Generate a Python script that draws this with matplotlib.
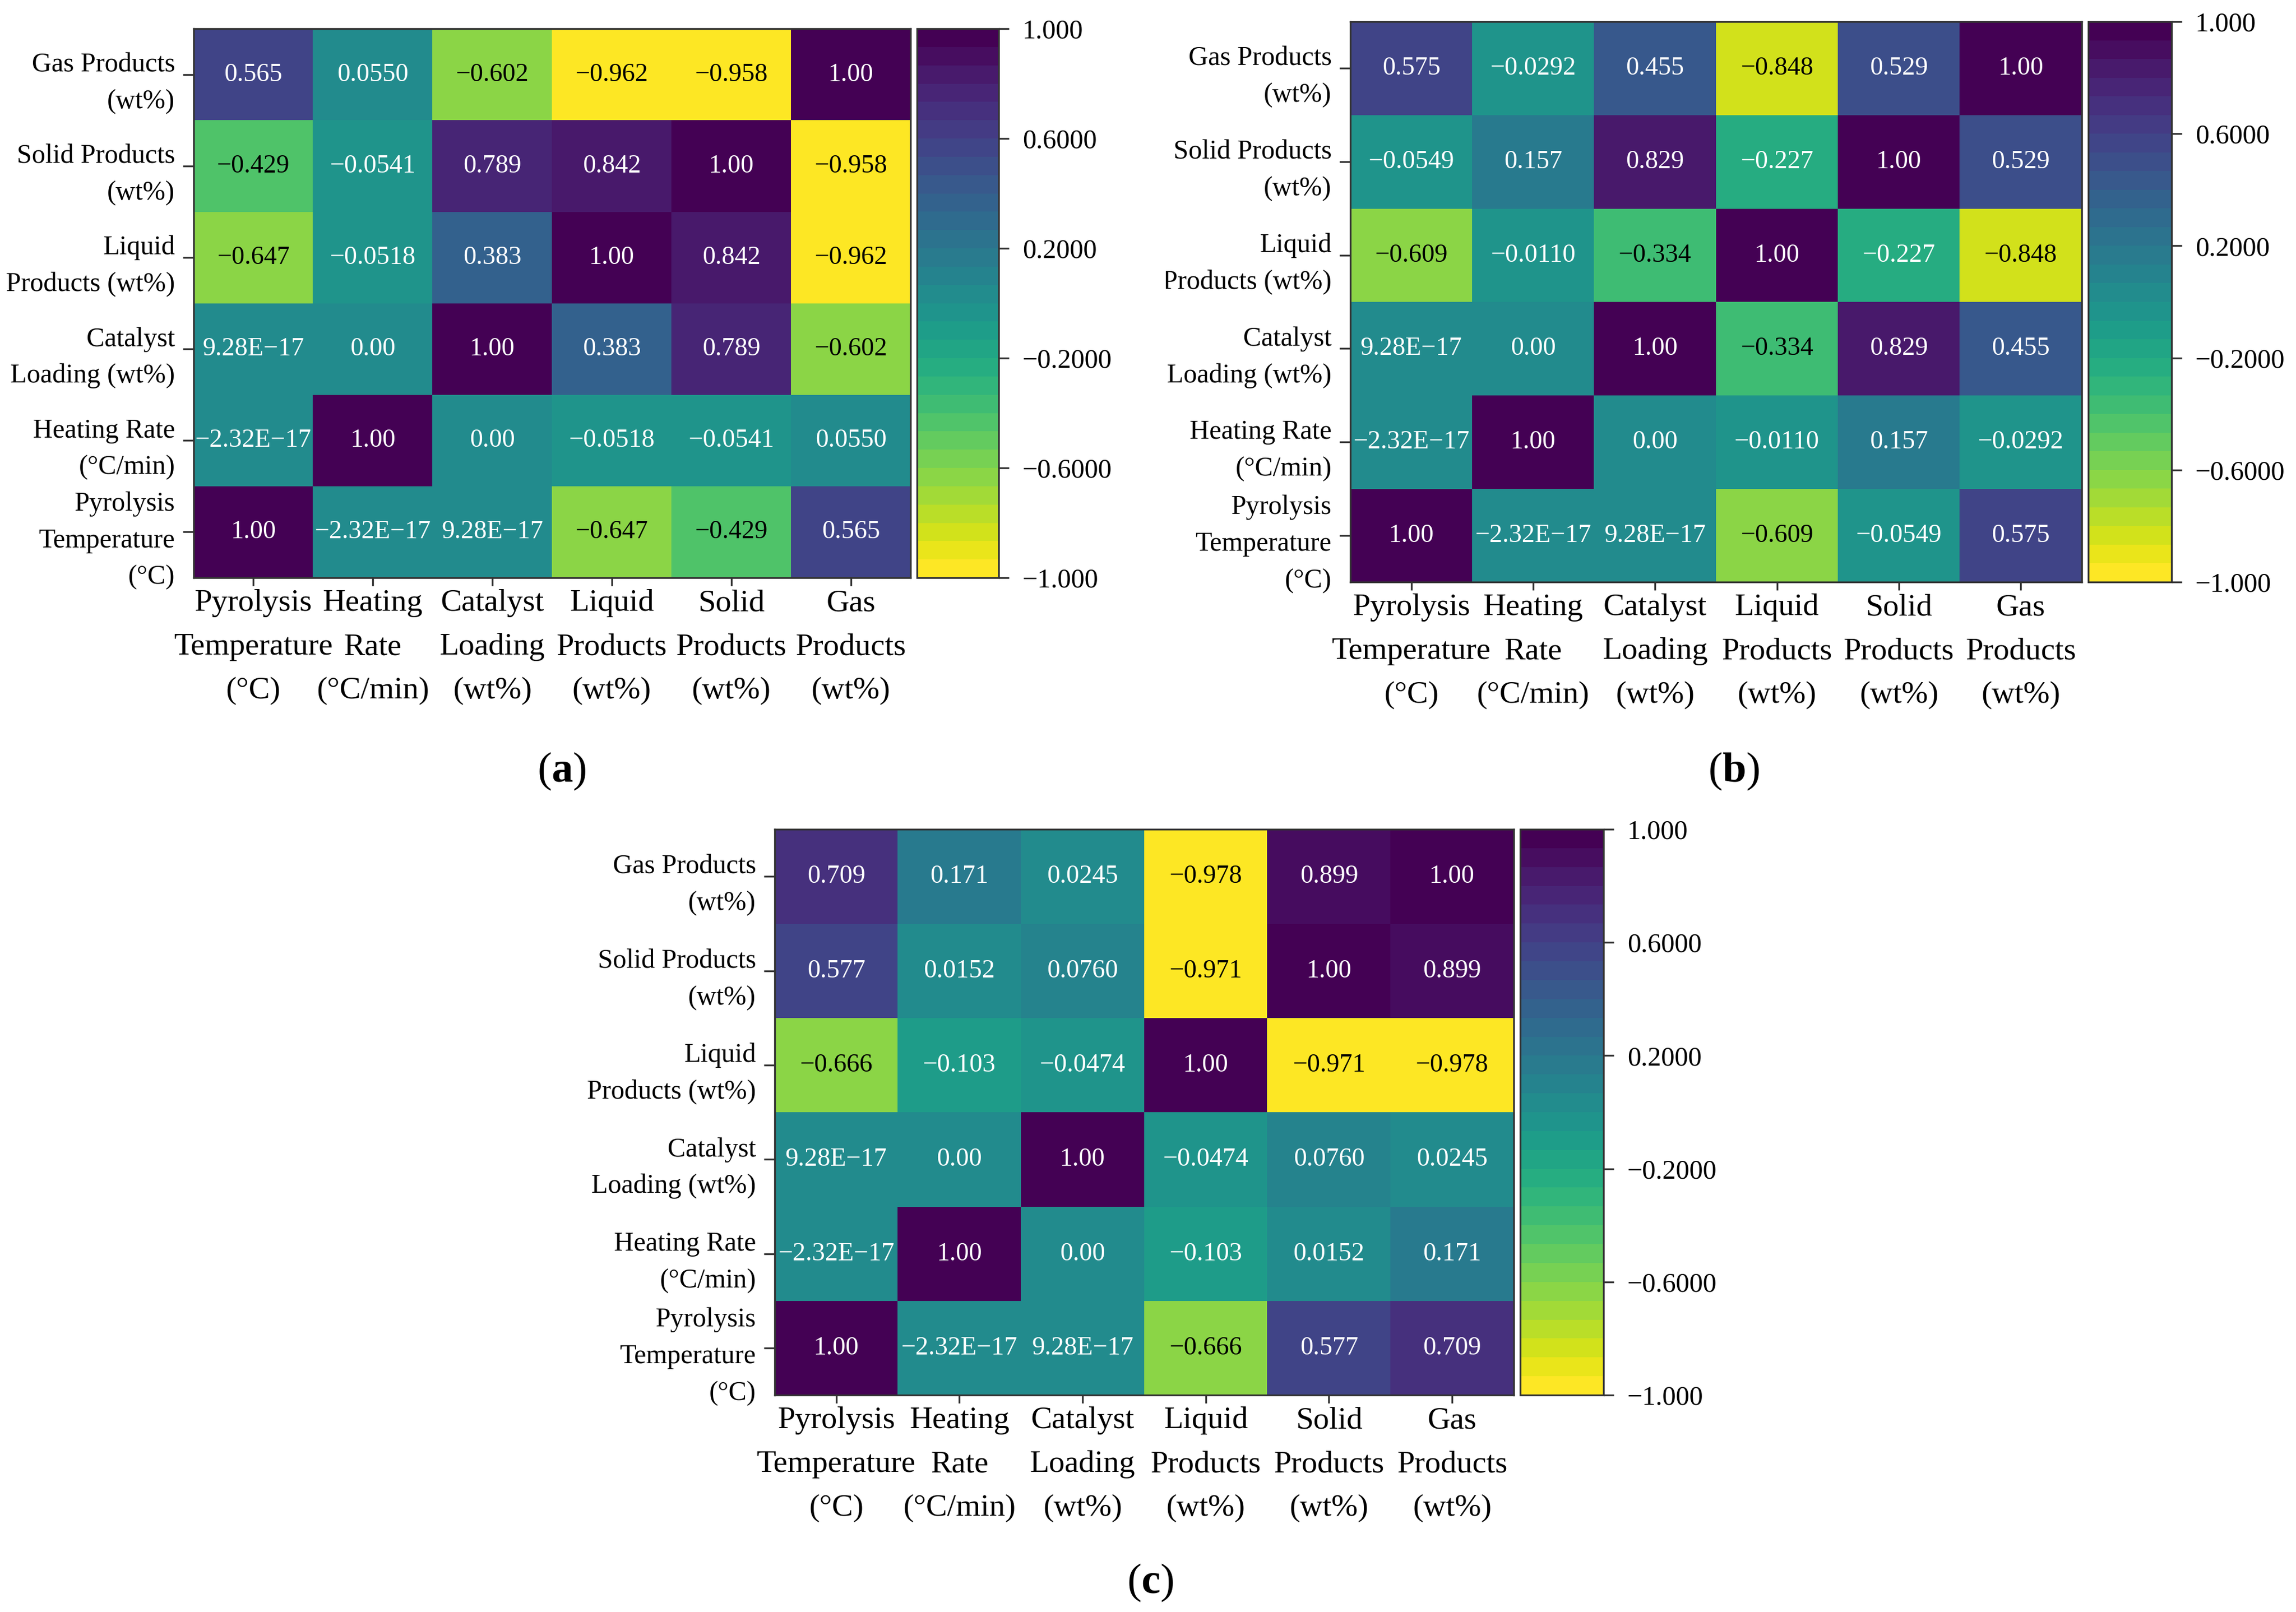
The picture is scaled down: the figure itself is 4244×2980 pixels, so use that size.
import numpy as np
import matplotlib
matplotlib.use('Agg')
import matplotlib.pyplot as plt
from matplotlib.colors import ListedColormap, Normalize, to_rgb
from matplotlib.transforms import Bbox, TransformedBbox

plt.rcParams['font.family'] = ['Liberation Serif', 'DejaVu Serif']
plt.rcParams['mathtext.fontset'] = 'custom'
plt.rcParams['mathtext.rm'] = 'Liberation Serif'
plt.rcParams['mathtext.bf'] = 'Liberation Serif:bold'

W, H = 4244, 2980  # output size in pixels

# axis labels (row 0 / column 0 = Pyrolysis Temperature, drawn from the bottom up)
x_labels = ['Pyrolysis\nTemperature\n(°C)', 'Heating\nRate\n(°C/min)',
            'Catalyst\nLoading\n(wt%)', 'Liquid\nProducts\n(wt%)',
            'Solid\nProducts\n(wt%)', 'Gas\nProducts\n(wt%)']
y_labels = ['Pyrolysis\nTemperature\n(°C)', 'Heating Rate\n(°C/min)',
            'Catalyst\nLoading (wt%)', 'Liquid\nProducts (wt%)',
            'Solid Products\n(wt%)', 'Gas Products\n(wt%)']

# correlation matrices
corr_a = [
    [1.00, -2.32e-17, 9.28e-17, -0.647, -0.429, 0.565],
    [-2.32e-17, 1.00, 0.00, -0.0518, -0.0541, 0.0550],
    [9.28e-17, 0.00, 1.00, 0.383, 0.789, -0.602],
    [-0.647, -0.0518, 0.383, 1.00, 0.842, -0.962],
    [-0.429, -0.0541, 0.789, 0.842, 1.00, -0.958],
    [0.565, 0.0550, -0.602, -0.962, -0.958, 1.00],
]
corr_b = [
    [1.00, -2.32e-17, 9.28e-17, -0.609, -0.0549, 0.575],
    [-2.32e-17, 1.00, 0.00, -0.0110, 0.157, -0.0292],
    [9.28e-17, 0.00, 1.00, -0.334, 0.829, 0.455],
    [-0.609, -0.0110, -0.334, 1.00, -0.227, -0.848],
    [-0.0549, 0.157, 0.829, -0.227, 1.00, 0.529],
    [0.575, -0.0292, 0.455, -0.848, 0.529, 1.00],
]
corr_c = [
    [1.00, -2.32e-17, 9.28e-17, -0.666, 0.577, 0.709],
    [-2.32e-17, 1.00, 0.00, -0.103, 0.0152, 0.171],
    [9.28e-17, 0.00, 1.00, -0.0474, 0.0760, 0.0245],
    [-0.666, -0.103, -0.0474, 1.00, -0.971, -0.978],
    [0.577, 0.0152, 0.0760, -0.971, 1.00, 0.899],
    [0.709, 0.171, 0.0245, -0.978, 0.899, 1.00],
]

cbar_ticks = [1.0, 0.6, 0.2, -0.2, -0.6, -1.0]
cbar_ticklabels = ['1.000', '0.6000', '0.2000', '\u22120.2000', '\u22120.6000', '\u22121.000']

panel_tags = ['a', 'b', 'c']

# layout in pixels: heatmap box (x0, x1, ytop, ybottom), colorbar x range, tag centre
layout = [
    dict(heat=(358, 1683, 53, 1068), cbar=(1695, 1846), tag=(1038, 1426), clip=None),
    dict(heat=(2496, 3848, 40, 1076), cbar=(3860, 4014), tag=(3205, 1426), clip=2155),
    dict(heat=(1432, 2798, 1533, 2579), cbar=(2810, 2964), tag=(2126, 2926), clip=None),
]

cmap = ListedColormap(plt.get_cmap('viridis_r')(np.linspace(0, 1, 30)))
norm = Normalize(vmin=-1, vmax=1)
edge = '#333333'


def fmt(v):
    # three significant figures, tiny values in E notation
    if v == 0:
        return '0.00'
    if abs(v) < 1e-3:
        s = f'{v:.2E}'.replace('E-', 'E\u2212')
    else:
        digits = max(2 - int(np.floor(np.log10(abs(v)))), 0)
        s = f'{v:.{digits}f}'
    return s.replace('-', '\u2212')


def luminance(c):
    rgb = np.array(to_rgb(c))
    lin = np.where(rgb <= 0.03928, rgb / 12.92, ((rgb + 0.055) / 1.055) ** 2.4)
    return 0.2126 * lin[0] + 0.7152 * lin[1] + 0.0722 * lin[2]


def box(x0, x1, y0, y1):
    return [x0 / W, 1 - y1 / H, (x1 - x0) / W, (y1 - y0) / H]


fig = plt.figure(figsize=(W / 300, H / 300), dpi=300)

for corr, lay, tag in zip([corr_a, corr_b, corr_c], layout, panel_tags):
    M = np.array(corr)
    hx0, hx1, hy0, hy1 = lay['heat']
    ax = fig.add_axes(box(hx0, hx1, hy0, hy1))
    im = ax.imshow(M, cmap=cmap, norm=norm, origin='lower', aspect='auto',
                   interpolation='nearest')
    for i in range(M.shape[0]):
        for j in range(M.shape[1]):
            col = cmap(norm(M[i, j]))
            tc = 'black' if luminance(col) > 0.35 else 'white'
            ax.text(j, i, fmt(M[i, j]), ha='center', va='center',
                    fontsize=11.5, color=tc)

    ax.set_xticks(range(len(x_labels)))
    ax.set_xticklabels(x_labels, fontsize=14, linespacing=1.72)
    ax.set_yticks(range(len(y_labels)))
    ax.set_yticklabels(y_labels, fontsize=12, linespacing=1.6)
    ax.tick_params(axis='x', length=3.6, width=0.8, color=edge, pad=1.5)
    ax.tick_params(axis='y', length=4.8, width=0.8, color=edge, pad=3.5)
    for sp in ax.spines.values():
        sp.set_linewidth(0.8)
        sp.set_color(edge)

    if lay['clip'] is not None:
        cb_box = TransformedBbox(Bbox.from_extents(lay['clip'] / W, 0, 1, 1), fig.transFigure)
        for lbl in ax.get_yticklabels():
            lbl.set_clip_on(True)
            lbl.set_clip_box(cb_box)

    cx0, cx1 = lay['cbar']
    cax = fig.add_axes(box(cx0, cx1, hy0, hy1))
    cb = fig.colorbar(im, cax=cax, ticks=cbar_ticks)
    cb.set_ticklabels(cbar_ticklabels)
    cb.outline.set_linewidth(0.8)
    cb.outline.set_edgecolor(edge)
    cax.tick_params(length=4.5, width=0.8, color=edge, pad=6, labelsize=12)

    tx, ty = lay['tag']
    fig.text(tx / W, 1 - ty / H, r'$\mathrm{(}\mathbf{%s}\mathrm{)}$' % tag,
             ha='center', va='center', fontsize=19)

fig.savefig('out.png', dpi=300)
